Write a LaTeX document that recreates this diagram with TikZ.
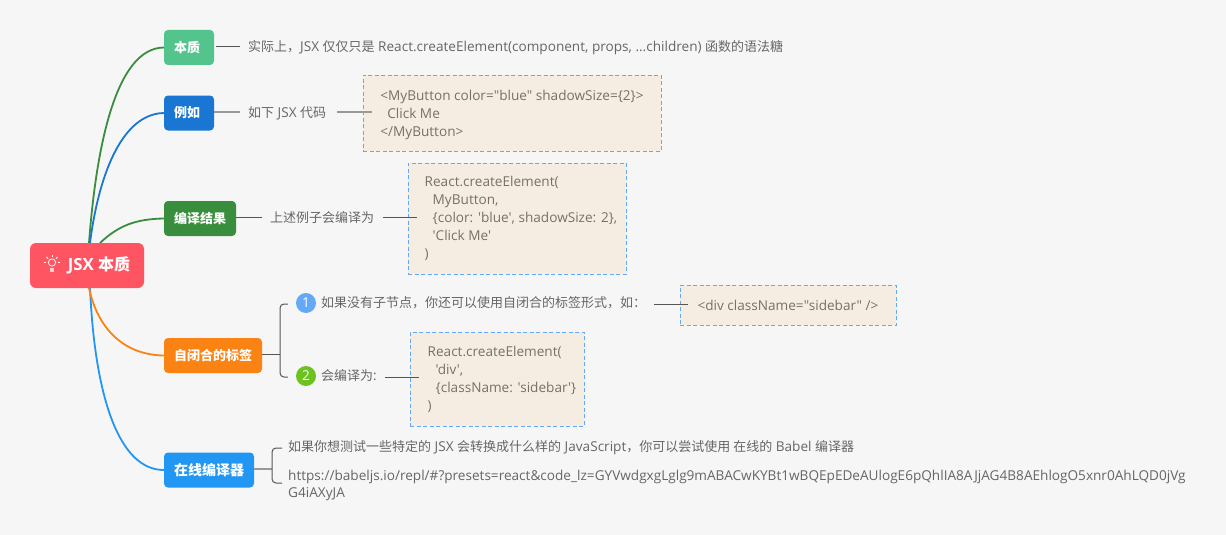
\documentclass[tikz,border=0pt]{standalone}
\usepackage{fontspec}
\newfontfamily\latin[Scale=1.046]{Open Sans}
\newfontfamily\cjk{Noto Sans CJK SC}
\newcommand{\zh}[1]{{\cjk #1}}
\usepackage{tikz}
\usetikzlibrary{positioning}
\definecolor{pagebg}{HTML}{F6F6F6}
\definecolor{rootred}{HTML}{FF5562}
\definecolor{mint}{HTML}{52C48C}
\definecolor{navy}{HTML}{1976D2}
\definecolor{forest}{HTML}{388E3C}
\definecolor{amber}{HTML}{FB8314}
\definecolor{sky}{HTML}{2196F3}
\definecolor{boxfill}{HTML}{F6EDE2}
\definecolor{boxline}{HTML}{64A9F5}
\definecolor{boxtext}{HTML}{7B6F63}
\definecolor{plaintext}{HTML}{666666}
\definecolor{linkdark}{HTML}{555555}
\definecolor{linkgrey}{HTML}{999999}
\definecolor{numgreen}{HTML}{6CC320}
\tikzset{
  root/.style={fill=rootred,rounded corners=6pt,text=white,font=\fontsize{16}{20}\selectfont\bfseries,minimum width=114pt,minimum height=45pt,inner sep=0pt},
  tag/.style={fill=#1,rounded corners=4pt,text=white,font=\fontsize{13}{16}\selectfont\bfseries,minimum height=35pt,inner sep=0pt},
  words/.style={anchor=west,inner sep=0pt,text=plaintext,font=\fontsize{13}{17}\selectfont,align=left},
  oneline/.style={words,text height=11pt,text depth=2.4pt},
  codebox/.style={draw=boxline,dashed,dash pattern=on 4pt off 2.5pt,fill=boxfill,text=boxtext,font=\fontsize{13}{18}\selectfont,align=left,inner sep=0pt},
  num/.style={circle,fill=#1,text=white,inner sep=0pt,minimum size=20pt,font=\fontsize{13}{16}\selectfont},
  limb/.style={line width=1.8pt,#1},
  link/.style={linkdark,line width=1pt},
  paler/.style={linkgrey,line width=1.5pt},
}
\begin{document}
\latin
\begin{tikzpicture}[x=1pt,y=-1pt]
\fill[pagebg] (0,0) rectangle (1226,535);
% limbs first, the tags sit on top
\coordinate (up1) at (89,243);
\coordinate (up2) at (90,243);
\coordinate (up3) at (100,243);
\coordinate (dn1) at (89,288);
\coordinate (dn2) at (90,288);
\node[tag=mint,minimum width=50pt] (essence) at (189,47.5) {\zh{本质}\hspace*{4pt}};
\node[tag=navy,minimum width=50pt] (sample) at (189,113) {\zh{例如}\hspace*{4pt}};
\node[tag=forest,minimum width=72pt] (compiled) at (200,218.5) {\zh{编译结果}};
\node[tag=amber,minimum width=98pt] (selfclose) at (213,355.5) {\zh{自闭合的标签}};
\node[tag=sky,minimum width=90pt,font=\fontsize{14}{16}\selectfont\bfseries] (online) at (209,470) {\zh{在线编译器}};
\draw[limb=forest] (up1) .. controls (96,150) and (115,48) .. (essence.west);
\draw[limb=navy] (up2) .. controls (98,180) and (120,114) .. (sample.west);
\draw[limb=forest] (up3) .. controls (118,226) and (135,219) .. (compiled.west);
\draw[limb=sky] (dn2) .. controls (95,400) and (120,470) .. (online.west);
\draw[limb=amber] (dn1) .. controls (98,330) and (125,355) .. (selfclose.west);
\node[root] (jsx) at (87,265.5) {\hspace*{24pt}JSX \zh{本质}};
% bulb
\draw[white,line width=.8pt] (52,262.5) circle (3.6);
\fill[white,opacity=.7] (50,267.5) rectangle (54,272);
\foreach \a in {0,45,90,135,180} {
  \draw[white,line width=.8pt] (52,262.5) ++(-\a:5.6) -- ++(-\a:2.2);
}
% first row
\node[oneline] (t1) at (248,47) {\zh{实际上，}JSX \zh{仅仅只是} React.createElement(component, props, ...children) \zh{函数的语法糖}};
\draw[link] (essence.east) ++(2,-1) -- ++(24,0);
% second row
\node[oneline] (t2) at (248,113) {\zh{如下} JSX \zh{代码}};
\node[codebox,minimum width=298pt,minimum height=76pt] (box1) at (512,113) {\rule{0pt}{15pt}<MyButton color="blue" shadowSize=\{2\}>\\\hspace*{7pt}Click Me\\</MyButton>};
\draw[paler] (sample.east) ++(0,-1) -- ++(26,0);
\draw[paler] ([xshift=11pt,yshift=1pt]t2.east) -- ([xshift=9pt,yshift=1pt]box1.west);
% third row
\node[oneline] (t3) at (270,218) {\zh{上述例子会编译为}};
\node[codebox,minimum width=218pt,minimum height=111pt] (box2) at (517,218.5) {React.createElement(\\\hspace*{8pt}MyButton,\\\hspace*{8pt}\{color: 'blue', shadowSize: 2\},\kern-8pt\\\hspace*{8pt}'Click Me'\\)};
\draw[link] (compiled.east) ++(0,-1.5) -- ++(26,0);
\draw[link] ([xshift=9pt,yshift=1pt]t3.east) -- ([xshift=9pt,yshift=1.5pt]box2.west);
% fourth row
\node[num=boxline] (n1) at (306,303) {1};
\node[num=numgreen] (n2) at (306,376) {2};
\node[oneline] (t4a) at (321,303) {\zh{如果没有子节点，你还可以使用自闭合的标签形式，如：}};
\node[oneline] (t4b) at (321,376) {\zh{会编译为}:};
\node[codebox,minimum width=216pt,minimum height=40pt] (box3) at (788,305) {<div className="sidebar" />};
\node[codebox,minimum width=174pt,minimum height=94pt] (box4) at (497,379) {React.createElement(\\\hspace*{8pt}'div',\\\hspace*{8pt}\{className: 'sidebar'\}\kern-10pt\\)};
\coordinate (spine4) at (280,354);
\draw[link] (selfclose.east) ++(0,-1.5) -- (spine4);
\draw[link,rounded corners=4pt] ([xshift=-8pt,yshift=-1pt]n1.west) -| (spine4) |- ([xshift=-8pt,yshift=-1pt]n2.west);
\draw[link] ([xshift=8pt,yshift=-1pt]t4a.east) -- ([xshift=8pt,yshift=1pt]box3.west);
\draw[link] ([xshift=8pt,yshift=-1pt]t4b.east) -- ([xshift=9pt,yshift=2pt]box4.west);
% fifth row
\node[oneline] (t5a) at (288,447) {\zh{如果你想测试一些特定的} JSX \zh{会转换成什么样的} JavaScript\zh{，你可以尝试使用 在线的} Babel \zh{编译器}};
\node[words] (t5b) at (288,485.5) {https://babeljs.io/repl/\#?presets=react\&code\_lz=GYVwdgxgLglg9mABACwKYBt1wBQEpEDeAUlogE6pQhlIA8AJjAG4B8AEhlogO5xnr0AhLQD0jVg\\G4iAXyJA};
\coordinate (spine5) at (272,469);
\draw[paler] (online.east) ++(0,-1) -- (spine5);
\draw[link,rounded corners=4pt] ([xshift=-6pt,yshift=-1pt]t5a.west) -| (spine5) |- ([xshift=-6pt,yshift=2.5pt]t5b.west);
\end{tikzpicture}
\end{document}
